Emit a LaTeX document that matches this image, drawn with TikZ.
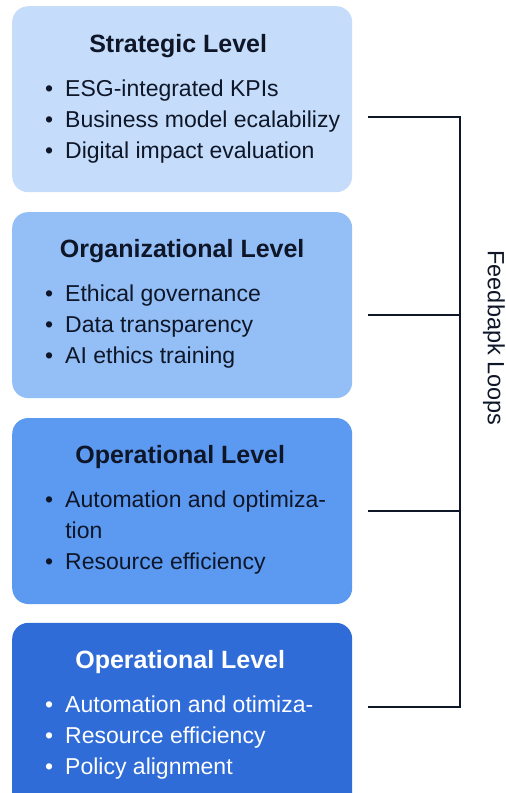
\documentclass[tikz,border=0pt]{standalone}
\usepackage{fontspec}
\setmainfont{Liberation Sans}
\usetikzlibrary{calc,positioning}
\definecolor{lvlA}{HTML}{C5DDFA}
\definecolor{lvlB}{HTML}{93BEF6}
\definecolor{lvlC}{HTML}{5C9AF2}
\definecolor{lvlD}{HTML}{306CD8}
\definecolor{ink}{HTML}{0E1628}
\newcommand{\itemlist}[1]{\begin{tabular}[t]{@{}l@{\hspace{12pt}}l@{}}#1\end{tabular}}

\begin{document}
\begin{tikzpicture}[x=1pt,y=1pt,text=ink,
    level/.style={rounded corners=16pt,minimum width=340pt,minimum height=186pt,inner sep=0pt},
    lvltitle/.style={font=\fontsize{25}{29}\selectfont\bfseries,anchor=base,inner sep=0pt},
    items/.style={font=\fontsize{23}{31}\selectfont,anchor=base west,inner sep=0pt},
    loopline/.style={line width=2.6pt,draw=ink}]
    \useasboundingbox (0,0) rectangle (506,-793);

    \node[level,fill=lvlA,anchor=north west] (strat) at (12,-6) {};
    \node[level,fill=lvlB,below=19.5pt of strat] (org) {};
    \node[level,fill=lvlC,below=19.5pt of org] (oper) {};
    \node[level,fill=lvlD,below=18.5pt of oper] (operb) {};

    \node[lvltitle] (stratT) at ($(strat.north)+(-4,-46)$) {Strategic Level};
    \node[items] (stratL) at ($(strat.north west)+(33,-90)$) {\itemlist{
      \textbullet & ESG-integrated KPIs\\
      \textbullet & Business model ecalabilizy\\
      \textbullet & Digital impact evaluation}};

    \node[lvltitle] (orgT) at ($(org.north)+(0,-46)$) {Organizational Level};
    \node[items] (orgL) at ($(org.north west)+(33,-90)$) {\itemlist{
      \textbullet & Ethical governance\\
      \textbullet & Data transparency\\
      \textbullet & AI ethics training}};

    \node[lvltitle] (operT) at ($(oper.north)+(-2,-46)$) {Operational Level};
    \node[items] (operL) at ($(oper.north west)+(33,-90)$) {\itemlist{
      \textbullet & Automation and optimiza-\\
      & tion\\
      \textbullet & Resource efficiency}};

    \node[lvltitle,text=white] (operbT) at ($(operb.north)+(-2,-46)$) {Operational Level};
    \node[items,text=white] (operbL) at ($(operb.north west)+(33,-90)$) {\itemlist{
      \textbullet & Automation and otimiza-\\
      \textbullet & Resource efficiency\\
      \textbullet & Policy alignment}};

    % feedback bracket
    \coordinate (t1) at (368,-117);
    \coordinate (t2) at (368,-315);
    \coordinate (t3) at (368,-511);
    \coordinate (t4) at (368,-707);
    \coordinate (j1) at (460,-117);
    \coordinate (j2) at (460,-315);
    \coordinate (j3) at (460,-511);
    \coordinate (j4) at (460,-707);
    \draw[loopline] (t1) -- (j1) -- (j4) -- (t4);
    \draw[loopline] (t2) -- (j2) (t3) -- (j3);
    \node[rotate=-90,font=\fontsize{23.5}{27}\selectfont] (loops) at (494,-338) {Feedbapk Loops};
\end{tikzpicture}
\end{document}
